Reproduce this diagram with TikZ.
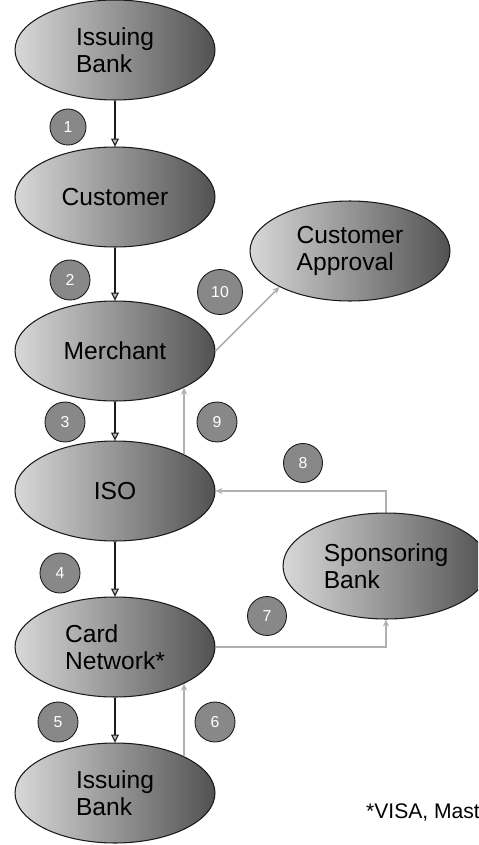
\documentclass[tikz,border=0pt]{standalone}
\usepackage{fontspec}
\setmainfont{Liberation Sans}
\usetikzlibrary{shapes.geometric,arrows.meta}
\definecolor{ink}{HTML}{1A1A1A}
\definecolor{lite}{HTML}{D8D8D8}
\definecolor{midg}{HTML}{B8B8B8}
\definecolor{dark}{HTML}{525252}
\definecolor{wire}{HTML}{B0B0B0}
\definecolor{dot}{HTML}{888888}

\begin{document}
\begin{tikzpicture}[x=0.02cm,y=-0.02cm,
  party/.style={ellipse,draw=ink,line width=.6pt,left color=lite,middle color=midg,right color=dark,
    minimum width=4cm,minimum height=2cm,inner sep=0pt,align=left,font=\fontsize{14}{15.5}\selectfont},
  badge/.style={circle,draw=ink,line width=.5pt,fill=dot,minimum size=.8cm,inner sep=0pt,text=white,
    font=\fontsize{9}{10}\selectfont},
  flow/.style={-{Triangle[length=4.5pt,width=4.5pt,fill=midg]},ink,line width=.6pt},
  back/.style={-{Stealth[length=4pt,width=3.5pt]},wire,line width=.9pt}]
\useasboundingbox (0,0) rectangle (478,845);
\clip (0,0) rectangle (478,845);
\node[party] (ibank) at (115,50) {Issuing\\Bank};
\node[party] (cust) at (115,197) {Customer};
\node[party] (merch) at (115,351) {Merchant};
\node[party] (iso) at (115,491) {ISO};
\node[party] (cnet) at (115,647) {Card\\Network*};
\node[party] (ibank2) at (115,793) {Issuing\\Bank};
\node[party] (approval) at (350,251) {Customer\\Approval};
\node[party,minimum width=4.12cm,minimum height=2.12cm] (sponsor) at (386,566) {Sponsoring\\Bank};
\node[badge,minimum size=.72cm] (n1) at (68,127) {1};
\node[badge] (n2) at (70,280) {2};
\node[badge] (n3) at (65,422) {3};
\node[badge] (n4) at (60,573) {4};
\node[badge] (n5) at (58,722) {5};
\node[badge] (n6) at (215,722) {6};
\node[badge,minimum size=.78cm] (n7) at (267,616) {7};
\node[badge,minimum size=.78cm] (n8) at (303,463) {8};
\node[badge] (n9) at (217,422) {9};
\node[badge,minimum size=.9cm] (n10) at (220,292) {10};
\draw[flow] (ibank) -- (cust);
\draw[flow] (cust) -- (merch);
\draw[flow] (merch) -- (iso);
\draw[flow] (iso) -- (cnet);
\draw[flow] (cnet) -- (ibank2);
\draw[back] (ibank2.28) -- (cnet.-28);
\draw[back] (cnet.east) -| (sponsor.south);
\draw[back] (sponsor.north) |- (iso.east);
\draw[back] (iso.28) -- (merch.-28);
\draw[back] (merch.east) -- (approval.207);
\node[anchor=west,font=\fontsize{12}{14}\selectfont] (note) at (360,812) {*VISA, Mast};
\end{tikzpicture}
\end{document}
